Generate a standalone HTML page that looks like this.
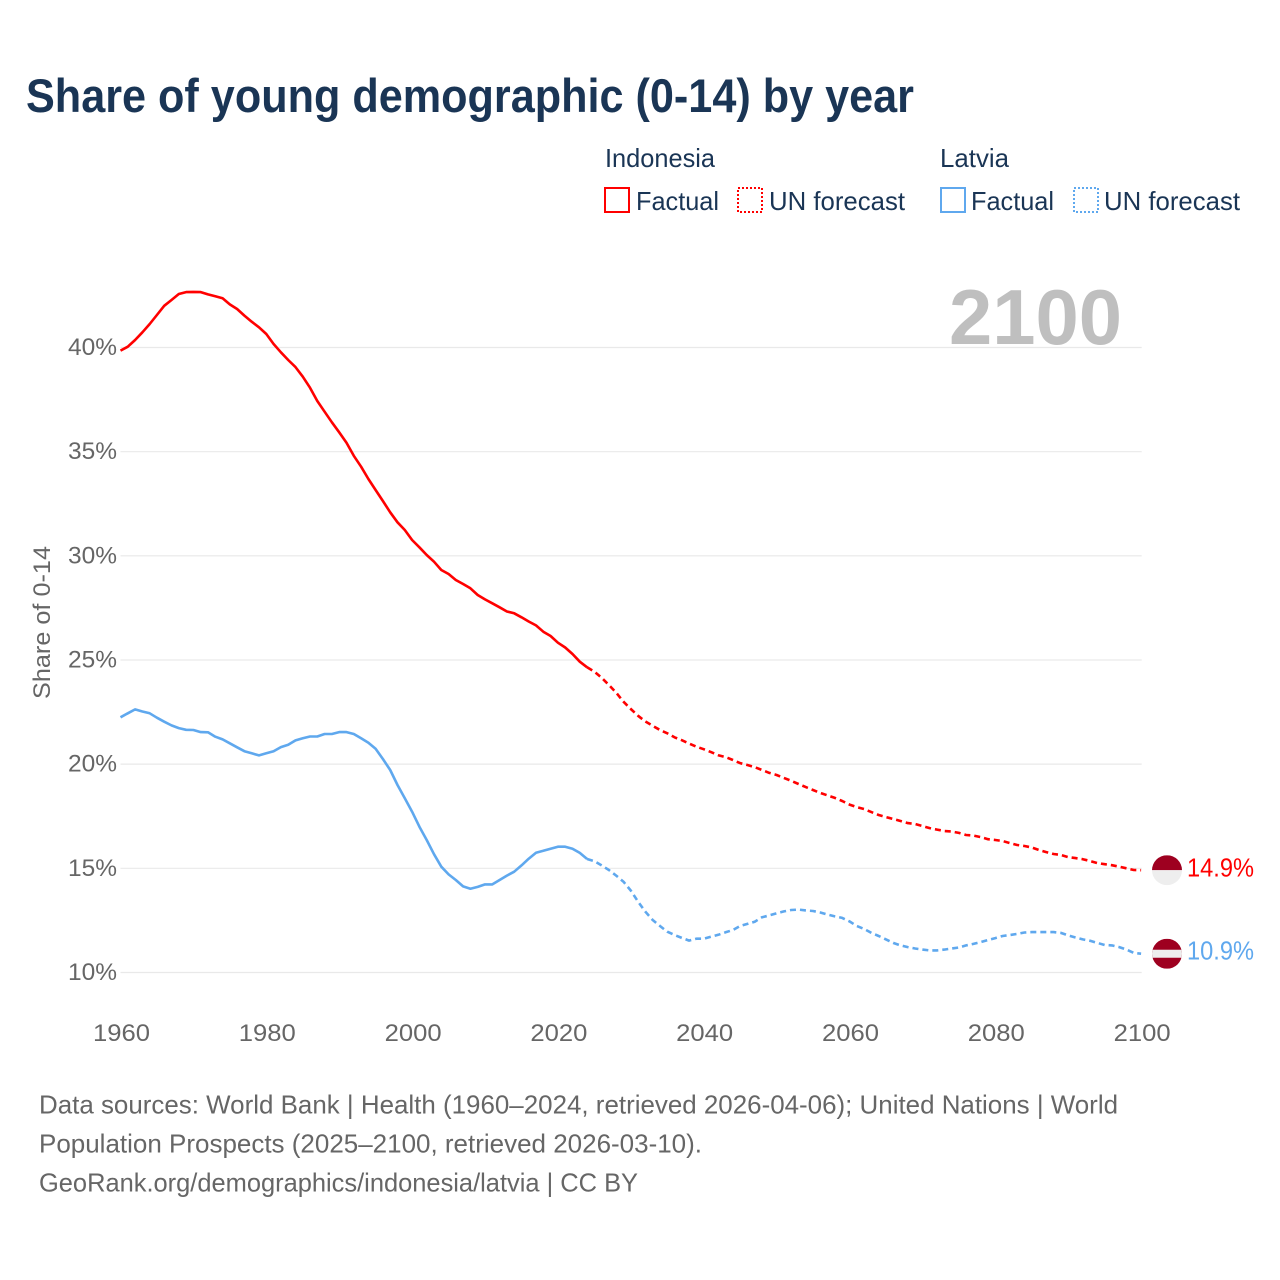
<!DOCTYPE html>
<html lang="en">
<head>
<meta charset="utf-8">
<title>Share of young demographic (0-14) by year</title>
<style>
html,body{margin:0;padding:0;background:#fff;}
svg{display:block;font-family:"Liberation Sans",sans-serif;}
</style>
</head>
<body>
<svg id="chart" width="1280" height="1280" viewBox="0 0 1280 1280" xmlns="http://www.w3.org/2000/svg">
  <defs>
    <clipPath id="flag-clip"><circle cx="0" cy="0" r="15"></circle></clipPath>
  </defs>
  <rect width="1280" height="1280" fill="#ffffff"></rect>
  <text x="26" y="112" font-size="47" font-weight="700" fill="#1a3555" textLength="888" lengthAdjust="spacingAndGlyphs">Share of young demographic (0-14) by year</text>

  <g font-size="26" fill="#1a3555">
    <text x="605" y="167" textLength="110" lengthAdjust="spacingAndGlyphs">Indonesia</text>
    <rect x="605" y="188" width="24" height="24" fill="none" stroke="#ff0000" stroke-width="2"></rect>
    <text x="636" y="210" textLength="83" lengthAdjust="spacingAndGlyphs">Factual</text>
    <rect x="738" y="188" width="24" height="24" fill="none" stroke="#ff0000" stroke-width="2" stroke-dasharray="2 2"></rect>
    <text x="769" y="210" textLength="136" lengthAdjust="spacingAndGlyphs">UN forecast</text>
    <text x="940" y="167" textLength="69" lengthAdjust="spacingAndGlyphs">Latvia</text>
    <rect x="941" y="188" width="24" height="24" fill="none" stroke="#5fa8ee" stroke-width="2"></rect>
    <text x="971" y="210" textLength="83" lengthAdjust="spacingAndGlyphs">Factual</text>
    <rect x="1074" y="188" width="24" height="24" fill="none" stroke="#5fa8ee" stroke-width="2" stroke-dasharray="2 2"></rect>
    <text x="1104" y="210" textLength="136" lengthAdjust="spacingAndGlyphs">UN forecast</text>
  </g>

  <g id="grid"></g>
  <text id="year-label" x="1122" y="344" font-size="78" font-weight="700" fill="#bfbfbf" text-anchor="end" textLength="173" lengthAdjust="spacingAndGlyphs"></text>
  <g id="y-ticks" font-size="24" fill="#666666"></g>
  <g id="x-ticks" font-size="24" fill="#666666"></g>
  <text transform="translate(50 622.5) rotate(-90)" font-size="24" fill="#666666" text-anchor="middle" textLength="153" lengthAdjust="spacingAndGlyphs">Share of 0-14</text>

  <g id="series" fill="none" stroke-width="2.6" stroke-linejoin="round"></g>

  <g id="flag-indonesia">
    <g clip-path="url(#flag-clip)">
      <rect x="-15" y="-15" width="30" height="15" fill="#9e0020"></rect>
      <rect x="-15" y="0" width="30" height="15" fill="#eeeeee"></rect>
    </g>
  </g>
  <g id="flag-latvia">
    <g clip-path="url(#flag-clip)">
      <rect x="-15" y="-15" width="30" height="30" fill="#9e0020"></rect>
      <rect x="-15" y="-4" width="30" height="8" fill="#eeeeee"></rect>
    </g>
  </g>
  <text id="value-indonesia" x="1187" font-size="26" fill="#ff0000" textLength="67" lengthAdjust="spacingAndGlyphs"></text>
  <text id="value-latvia" x="1187" font-size="26" fill="#5fa8ee" textLength="67" lengthAdjust="spacingAndGlyphs"></text>

  <g font-size="26" fill="#666666">
    <text x="39" y="1113.5" textLength="1079" lengthAdjust="spacingAndGlyphs">Data sources: World Bank | Health (1960–2024, retrieved 2026-04-06); United Nations | World</text>
    <text x="39" y="1152.5" textLength="663" lengthAdjust="spacingAndGlyphs">Population Prospects (2025–2100, retrieved 2026-03-10).</text>
    <text x="39" y="1191.5" textLength="599" lengthAdjust="spacingAndGlyphs">GeoRank.org/demographics/indonesia/latvia | CC BY</text>
  </g>
</svg>
<script>
const firstYear = 1960;
const lastFactualYear = 2024;
const xTickYears = [1960, 1980, 2000, 2020, 2040, 2060, 2080, 2100];
const yTickValues = [10, 15, 20, 25, 30, 35, 40];
const indonesiaValues = [
39.85,40.04,40.36,40.73,41.13,41.56,42.0,42.28,42.57,42.66,
42.67,42.66,42.55,42.46,42.36,42.07,41.85,41.53,41.24,40.97,
40.65,40.17,39.77,39.4,39.06,38.6,38.07,37.43,36.92,36.41,
35.93,35.43,34.8,34.28,33.69,33.16,32.63,32.09,31.61,31.24,
30.76,30.41,30.04,29.72,29.32,29.13,28.84,28.65,28.44,28.12,
27.91,27.72,27.53,27.33,27.24,27.05,26.85,26.66,26.36,26.15,
25.83,25.6,25.29,24.92,24.65,24.44,24.15,23.8,23.43,23.0,
22.65,22.32,22.05,21.84,21.64,21.48,21.29,21.15,20.99,20.84,
20.72,20.58,20.43,20.34,20.2,20.05,19.96,19.86,19.72,19.58,
19.48,19.34,19.2,19.05,18.9,18.76,18.62,18.5,18.38,18.23,
18.06,17.94,17.85,17.7,17.56,17.46,17.37,17.27,17.17,17.13,
17.03,16.93,16.86,16.79,16.77,16.7,16.6,16.57,16.5,16.4,
16.36,16.31,16.21,16.12,16.07,16.0,15.88,15.78,15.69,15.64,
15.54,15.49,15.44,15.35,15.25,15.2,15.15,15.08,15.0,14.92,
14.91];
const latviaValues = [
22.25,22.44,22.63,22.53,22.44,22.23,22.04,21.86,21.73,21.65,
21.64,21.54,21.53,21.32,21.19,21.0,20.81,20.62,20.52,20.42,
20.52,20.62,20.82,20.93,21.14,21.24,21.33,21.33,21.45,21.45,
21.54,21.54,21.45,21.24,21.03,20.74,20.25,19.72,19.0,18.36,
17.72,17.0,16.36,15.68,15.08,14.71,14.44,14.13,14.02,14.11,
14.23,14.23,14.44,14.65,14.84,15.14,15.46,15.75,15.84,15.94,
16.04,16.04,15.94,15.74,15.45,15.34,15.14,14.92,14.65,14.36,
13.93,13.4,12.92,12.52,12.23,11.96,11.8,11.66,11.53,11.62,
11.62,11.72,11.81,11.93,12.04,12.23,12.33,12.44,12.65,12.74,
12.84,12.93,13.0,13.02,12.98,12.95,12.88,12.78,12.69,12.62,
12.45,12.23,12.09,11.9,11.75,11.59,11.42,11.3,11.22,11.15,
11.1,11.06,11.06,11.1,11.15,11.2,11.3,11.37,11.46,11.56,
11.65,11.75,11.8,11.85,11.92,11.94,11.94,11.94,11.94,11.9,
11.78,11.68,11.59,11.52,11.42,11.32,11.3,11.22,11.1,10.94,
10.9];

const SVG_NS = 'http://www.w3.org/2000/svg';
function xScale(year) { return 120.5 + (year - 1960) * 7.29; }
function yScale(value) { return 347.5 + (40 - value) * 20.833; }
function linePath(values, fromYear, toYear) {
  const parts = [];
  for (let year = fromYear; year <= toYear; year++) {
    const value = values[year - firstYear];
    parts.push((parts.length ? 'L' : 'M') + xScale(year).toFixed(1) + ' ' + yScale(value).toFixed(1));
  }
  return parts.join('');
}

const gridGroup = document.getElementById('grid');
const yTickGroup = document.getElementById('y-ticks');
const xTickGroup = document.getElementById('x-ticks');
const seriesGroup = document.getElementById('series');

yTickValues.forEach(function (tick) {
  const line = document.createElementNS(SVG_NS, 'line');
  
  
  line.setAttribute('x1', xScale(1960));
  line.setAttribute('x2', 1141.7);
  line.setAttribute('y1', yScale(tick));
  line.setAttribute('y2', yScale(tick));
  line.setAttribute('stroke', '#e9e9e9');
  line.setAttribute('stroke-width', '1.2');
  gridGroup.appendChild(line);

  const label = document.createElementNS(SVG_NS, 'text');
  
  
  label.setAttribute('x', 68);
  label.setAttribute('y', yScale(tick) + 7.5);
  label.setAttribute('textLength', 49);
  label.setAttribute('lengthAdjust', 'spacingAndGlyphs');
  label.textContent = tick + '%';
  yTickGroup.appendChild(label);
});

xTickYears.forEach(function (year) {
  const label = document.createElementNS(SVG_NS, 'text');
  
  
  label.setAttribute('x', xScale(year) - 27.5);
  label.setAttribute('y', 1041);
  label.setAttribute('textLength', 57);
  label.setAttribute('lengthAdjust', 'spacingAndGlyphs');
  label.textContent = String(year);
  xTickGroup.appendChild(label);
});

const finalYear = firstYear + indonesiaValues.length - 1;

const indonesiaFactual = document.createElementNS(SVG_NS, 'path');


indonesiaFactual.setAttribute('d', linePath(indonesiaValues, firstYear, lastFactualYear));
indonesiaFactual.setAttribute('stroke', '#ff0000');
seriesGroup.appendChild(indonesiaFactual);

const indonesiaForecast = document.createElementNS(SVG_NS, 'path');


indonesiaForecast.setAttribute('d', linePath(indonesiaValues, lastFactualYear, finalYear));
indonesiaForecast.setAttribute('stroke', '#ff0000');
indonesiaForecast.setAttribute('stroke-dasharray', '6 4');
seriesGroup.appendChild(indonesiaForecast);

const latviaFactual = document.createElementNS(SVG_NS, 'path');


latviaFactual.setAttribute('d', linePath(latviaValues, firstYear, lastFactualYear));
latviaFactual.setAttribute('stroke', '#5fa8ee');
seriesGroup.appendChild(latviaFactual);

const latviaForecast = document.createElementNS(SVG_NS, 'path');


latviaForecast.setAttribute('d', linePath(latviaValues, lastFactualYear, finalYear));
latviaForecast.setAttribute('stroke', '#5fa8ee');
latviaForecast.setAttribute('stroke-dasharray', '6 4');
seriesGroup.appendChild(latviaForecast);

const lastIndonesia = indonesiaValues[indonesiaValues.length - 1];
const lastLatvia = latviaValues[latviaValues.length - 1];
document.getElementById('year-label').textContent = String(finalYear);
document.getElementById('flag-indonesia').setAttribute('transform', 'translate(1167 ' + yScale(lastIndonesia) + ')');
document.getElementById('flag-latvia').setAttribute('transform', 'translate(1167 ' + yScale(lastLatvia) + ')');
const valueIndonesia = document.getElementById('value-indonesia');
valueIndonesia.setAttribute('y', yScale(lastIndonesia) + 6.5);
valueIndonesia.textContent = lastIndonesia.toFixed(1) + '%';
const valueLatvia = document.getElementById('value-latvia');
valueLatvia.setAttribute('y', yScale(lastLatvia) + 6);
valueLatvia.textContent = lastLatvia.toFixed(1) + '%';
</script>
</body>
</html>
